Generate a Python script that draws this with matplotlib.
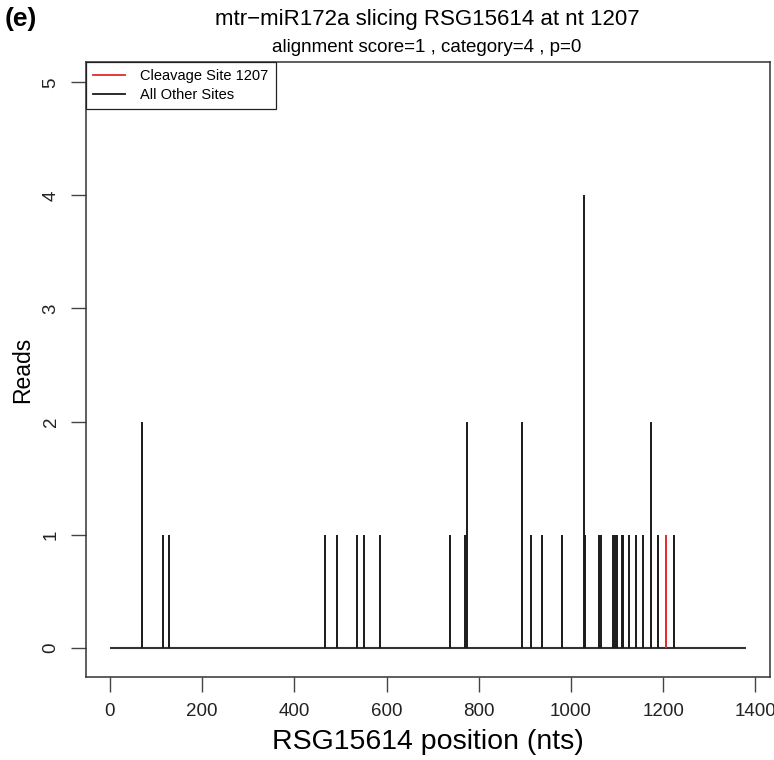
import matplotlib
matplotlib.use("Agg")
import matplotlib.pyplot as plt
from matplotlib.lines import Line2D

plt.rcParams['font.family'] = ['Liberation Sans', 'DejaVu Sans']

# transcript span and degradome reads per position
seq_start = 1
seq_end = 1380
positions = [70, 116, 128, 467, 493, 536, 551, 586, 737, 770, 774, 894, 914, 938,
             980, 1028, 1031, 1061, 1066, 1091, 1095, 1099, 1110, 1114, 1127, 1142,
             1156, 1173, 1190, 1223]
reads = [2, 1, 1, 1, 1, 1, 1, 1, 1, 1, 2, 2, 1, 1,
         1, 4, 1, 1, 1, 1, 1, 1, 1, 1, 1, 1,
         1, 2, 1, 1]
cleave_pos = [1207]
cleave_reads = [1]

fig = plt.figure(figsize=(7.74, 7.6), dpi=100)
ax = fig.add_axes([86 / 774, 1 - 677 / 760, (770 - 86) / 774, (677 - 62) / 760])

ax.hlines(0, seq_start, seq_end, color='#333333', lw=1.5, zorder=2)
ax.vlines(positions, 0, reads, color='#1a1a1a', lw=1.4, zorder=3)
ax.vlines(cleave_pos, 0, cleave_reads, color='#e8262b', lw=1.4, zorder=4)

ax.set_xlim(-52, 1432)
ax.set_ylim(-0.26, 5.18)
ax.set_xticks(range(0, 1401, 200))
ax.set_yticks(range(0, 6))
ax.tick_params(direction='out', length=11, width=1, color='#444444',
               labelsize=13.5, pad=8, labelcolor='#222222')
for lab in ax.get_yticklabels():
    lab.set_rotation(90)
    lab.set_va('center')
for sp in ax.spines.values():
    sp.set_color('#333333')
    sp.set_linewidth(1.1)

ax.set_xlabel('RSG15614 position (nts)', fontsize=20.5, labelpad=6)
ax.set_ylabel('Reads', fontsize=16.5, labelpad=6)

handles = [Line2D([], [], color='#e8262b', lw=1.3),
           Line2D([], [], color='#1a1a1a', lw=1.3)]
leg = ax.legend(handles, ['Cleavage Site 1207', 'All Other Sites'],
                loc='upper left', bbox_to_anchor=(0, 1), borderaxespad=0,
                fontsize=10.5, handlelength=2.2, handletextpad=1.0,
                fancybox=False, framealpha=1, edgecolor='#222222',
                borderpad=0.5, labelspacing=0.3)
leg.get_frame().set_linewidth(0.9)

fig.text(427 / 774, 1 - 19 / 760, 'mtr\u2212miR172a slicing RSG15614 at nt 1207',
         ha='center', va='center', fontsize=16)
fig.text(427 / 774, 1 - 48 / 760, 'alignment score=1 , category=4 , p=0',
         ha='center', va='center', fontsize=13.5)
fig.text(5 / 774, 1 - 19 / 760, '(e)', ha='left', va='center',
         fontsize=19, fontweight='bold')

fig.savefig('out.png', dpi=100)
